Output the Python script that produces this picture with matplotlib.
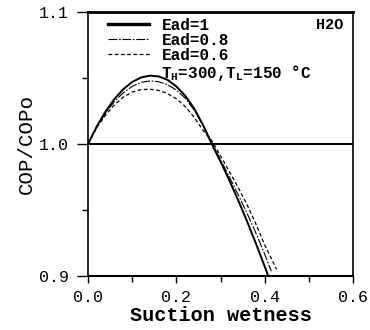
import matplotlib

matplotlib.use("Agg")
import matplotlib.pyplot as plt
from matplotlib.ticker import MultipleLocator

# suction wetness
x_ead1 = [0.0, 0.02, 0.04, 0.06, 0.08, 0.10, 0.12, 0.14, 0.16, 0.18, 0.20,
          0.22, 0.24, 0.26, 0.28, 0.30, 0.32, 0.34, 0.36, 0.38, 0.40, 0.408]
y_ead1 = [1.0, 1.0134, 1.0247, 1.0341, 1.0415, 1.0469, 1.0503, 1.0517, 1.0511,
          1.0485, 1.0435, 1.0365, 1.027, 1.0145, 1.0, 0.9866, 0.9724, 0.9573,
          0.9414, 0.9247, 0.9072, 0.9]

x_ead08 = [0.0, 0.02, 0.04, 0.06, 0.08, 0.10, 0.12, 0.14, 0.16, 0.18, 0.20,
           0.22, 0.24, 0.26, 0.28, 0.30, 0.32, 0.34, 0.36, 0.38, 0.40, 0.415]
y_ead08 = [1.0, 1.013, 1.0235, 1.0322, 1.0388, 1.0436, 1.0466, 1.0477, 1.0471,
           1.0448, 1.0408, 1.0347, 1.0258, 1.0145, 1.0012, 0.988, 0.975,
           0.9615, 0.9475, 0.9325, 0.9165, 0.9035]

x_ead06 = [0.0, 0.02, 0.04, 0.06, 0.08, 0.10, 0.12, 0.14, 0.16, 0.18, 0.20,
           0.22, 0.24, 0.26, 0.28, 0.30, 0.32, 0.34, 0.36, 0.38, 0.40, 0.427]
y_ead06 = [1.0, 1.0125, 1.022, 1.0297, 1.0355, 1.0393, 1.0411, 1.0414, 1.0405,
           1.0381, 1.0342, 1.0283, 1.0203, 1.0105, 1.0025, 0.991, 0.979, 0.967,
           0.954, 0.9395, 0.9235, 0.905]

labels = ["Ead=1", "Ead=0.8", "Ead=0.6"]
mono = "Liberation Mono"

fig = plt.figure(figsize=(3.7, 3.3), dpi=100)
ax = fig.add_axes([0.238, 0.164, 0.716, 0.8])

ax.plot(x_ead1, y_ead1, color="black", lw=1.4, label=labels[0])
ax.plot(x_ead08, y_ead08, color="black", lw=0.8, dashes=(8, 1.5, 1.5, 1.5),
        label=labels[1])
ax.plot(x_ead06, y_ead06, color="black", lw=0.9, dashes=(3, 2), label=labels[2])
ax.axhline(1.0, color="black", lw=1.4)

ax.set_xlim(0, 0.6)
ax.set_ylim(0.9, 1.1)
ax.xaxis.set_major_locator(MultipleLocator(0.2))
ax.xaxis.set_minor_locator(MultipleLocator(0.1))
ax.yaxis.set_major_locator(MultipleLocator(0.1))
ax.yaxis.set_minor_locator(MultipleLocator(0.05))
ax.tick_params(which="major", direction="out", length=5, width=1.0,
               labelsize=12)
ax.tick_params(axis="x", which="major", pad=5)
ax.tick_params(axis="y", which="major", length=8, pad=6)
ax.tick_params(which="minor", direction="out", length=4, width=1.0)
for lab in ax.get_xticklabels() + ax.get_yticklabels():
    lab.set_family(mono)

ax.spines["top"].set_linewidth(2.0)
ax.spines["bottom"].set_linewidth(1.5)
ax.spines["left"].set_linewidth(1.2)
ax.spines["right"].set_linewidth(1.2)

ax.set_xlabel("Suction wetness", family=mono, fontsize=14.5, weight="bold",
              labelpad=1)
ax.set_ylabel("COP/COPo", family=mono, fontsize=15, labelpad=2)

leg = ax.legend(loc="upper left", bbox_to_anchor=(0.075, 0.978), frameon=False,
                borderpad=0, borderaxespad=0, handlelength=2.6,
                handletextpad=0.75, labelspacing=0.0,
                prop={"family": mono, "weight": "bold", "size": 11.5})
leg.get_lines()[0].set_linewidth(2.4)

ax.text(0.275, 0.768, r"T$_\mathregular{H}$=300,T$_\mathregular{L}$=150 °C",
        transform=ax.transAxes, family=mono, fontsize=11.5, weight="bold",
        va="center")
ax.text(0.962, 0.951, "H2O", transform=ax.transAxes, family=mono,
        fontsize=11, weight="bold", ha="right", va="center")

fig.savefig("out.png", dpi=100)
